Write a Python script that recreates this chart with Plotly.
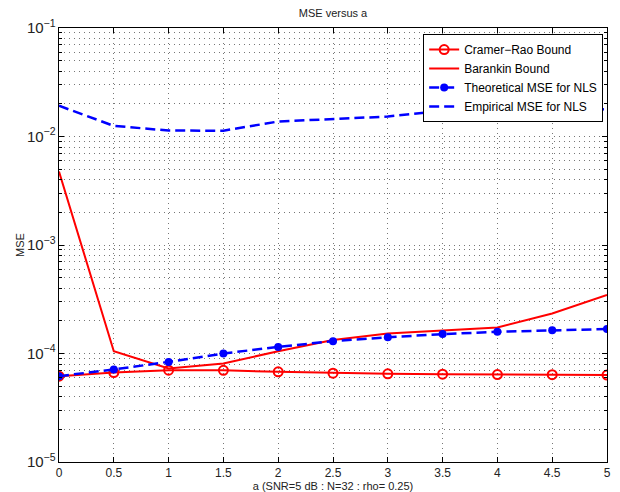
import plotly.graph_objects as go

a_vals = [0, 0.5, 1, 1.5, 2, 2.5, 3, 3.5, 4, 4.5, 5]
crb = [6.18e-5, 6.68e-5, 7.02e-5, 7.0e-5, 6.78e-5, 6.59e-5, 6.5e-5, 6.45e-5, 6.4e-5, 6.38e-5, 6.32e-5]
barankin = [4.75e-3, 1.05e-4, 7.28e-5, 8.09e-5, 1.05e-4, 1.33e-4, 1.53e-4, 1.64e-4, 1.74e-4, 2.34e-4, 3.46e-4]
theo_nls = [6.18e-5, 7.13e-5, 8.37e-5, 1.0e-4, 1.15e-4, 1.30e-4, 1.41e-4, 1.51e-4, 1.585e-4, 1.64e-4, 1.68e-4]
emp_nls = [0.0192, 0.01253, 0.01135, 0.0113, 0.01375, 0.01456, 0.01527, 0.01726, 0.0168, 0.0170, 0.01787]

font = "Liberation Sans, Arial, Helvetica, sans-serif"
txt = "#222222"
grid_col = "#777777"
grid_dash = "1px,4px"

fig = go.Figure()
fig.add_trace(go.Scatter(x=a_vals, y=crb, name="Cramer\u2212Rao Bound", mode="lines+markers",
                         line=dict(color="#ff0000", width=2),
                         marker=dict(symbol="circle-open", size=9, color="#ff0000", line=dict(width=2))))
fig.add_trace(go.Scatter(x=a_vals, y=barankin, name="Barankin Bound", mode="lines",
                         line=dict(color="#ff0000", width=2)))
fig.add_trace(go.Scatter(x=a_vals, y=theo_nls, name="Theoretical MSE for NLS", mode="lines+markers",
                         line=dict(color="#0000ff", width=2.5, dash="10px,5px"),
                         marker=dict(symbol="circle", size=8, color="#0000ff")))
fig.add_trace(go.Scatter(x=a_vals, y=emp_nls, name="Empirical MSE for NLS", mode="lines",
                         line=dict(color="#0000ff", width=2.5, dash="10px,5px")))

axis_common = dict(showline=True, linecolor="black", linewidth=1, mirror="ticks",
                   ticks="inside", ticklen=5, tickcolor="black", automargin=False,
                   showgrid=True, gridcolor=grid_col, griddash=grid_dash, gridwidth=1,
                   zeroline=False, tickfont=dict(family=font, size=12, color=txt))

# page body has an 8px margin; figure size/margins compensate for it
fig.update_layout(
    width=612, height=484,
    margin=dict(l=51, r=13, t=20, b=30),
    paper_bgcolor="white", plot_bgcolor="white",
    font=dict(family=font, size=12, color=txt),
    title=dict(text="MSE versus a", xref="paper", x=0.5, xanchor="center",
               yref="container", y=1 - 5 / 484, yanchor="middle",
               font=dict(family=font, size=11, color=txt)),
    xaxis=dict(range=[0, 5], dtick=0.5, tick0=0,
               title=dict(text="a (SNR=5 dB : N=32 : rho= 0.25)", standoff=4,
                          font=dict(family=font, size=11, color=txt)),
               **axis_common),
    yaxis=dict(type="log", range=[-5, -1], dtick=1, exponentformat="power",
               title=dict(text="MSE", standoff=0, font=dict(family=font, size=11, color=txt)),
               minor=dict(dtick="D1", showgrid=True, gridcolor=grid_col, griddash=grid_dash,
                          ticks="inside", ticklen=3, tickcolor="black"),
               **axis_common),
    legend=dict(x=0.993, y=0.986, xanchor="right", yanchor="top",
                bgcolor="white", bordercolor="black", borderwidth=1,
                font=dict(family=font, size=12, color="black"),
                tracegroupgap=0, itemwidth=30),
    showlegend=True,
)

fig.write_html("out.html")
